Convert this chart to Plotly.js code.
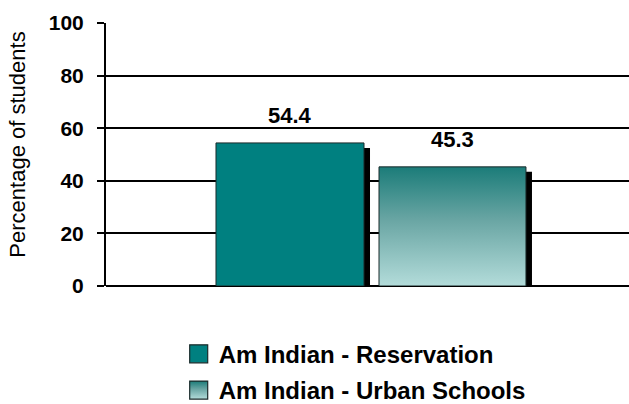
<!DOCTYPE html>
<html>
<head>
<meta charset="utf-8">
<script src="https://cdn.plot.ly/plotly-3.0.1.min.js"></script>
<style>html,body{margin:0;padding:0;background:#fff}#chart{width:629px;height:404px}</style>
</head>
<body>
<div id="chart"></div>
<script>
const category = ["Am Indian"];
const seriesNames = ["Am Indian - Reservation", "Am Indian - Urban Schools"];
const reservation = [54.4];
const urban = [45.3];
const yTicks = [0, 20, 40, 60, 80, 100];

const font = "Liberation Sans, Arial, sans-serif";
const barW = [0.283, 0.281];
const barOff = [-0.2897, 0.022];
const shadowDx = 0.0115;
const shadowDrop = 1.9;

const vals = [reservation, urban];
const traces = [];
// shadows
vals.forEach((v, i) => {
  traces.push({
    type: "bar", x: category, y: v.map(d => d - shadowDrop),
    width: barW[i], offset: barOff[i] + shadowDx,
    marker: {color: "#000000", line: {width: 0}},
    showlegend: false, hoverinfo: "skip"
  });
});
traces.push({
  type: "bar", name: seriesNames[0], x: category, y: reservation,
  width: barW[0], offset: barOff[0], legendgroup: "a",
  marker: {color: "#008080", line: {color: "#1a2a2a", width: 1}}
});
traces.push({
  type: "bar", name: seriesNames[1], x: category, y: urban,
  width: barW[1], offset: barOff[1], legendgroup: "b",
  marker: {color: "#6aa8a6", line: {color: "#1a2a2a", width: 1}}
});

const annotations = vals.map((v, i) => ({
  x: barOff[i] + barW[i] / 2, y: v[0], xref: "x", yref: "y",
  text: "<b>" + v[0].toFixed(1) + "</b>", showarrow: false,
  yanchor: "middle", yshift: 27,
  font: {family: font, size: 22, color: "#000"}
}));

const layout = {
  width: 629, height: 404,
  margin: {l: 106, r: 0, t: 23, b: 118, autoexpand: false},
  paper_bgcolor: "#fff", plot_bgcolor: "#fff",
  barmode: "overlay",
  showlegend: true,
  legend: {
    x: 0.139, xanchor: "left", y: -0.174, yanchor: "top",
    bgcolor: "rgba(0,0,0,0)",
    orientation: "v", traceorder: "grouped", tracegroupgap: 2,
    font: {family: font, size: 24, color: "#000", weight: "bold"},
    itemclick: false
  },
  xaxis: {
    type: "category", range: [-0.5, 0.5], showticklabels: false,
    showgrid: false, zeroline: false, showline: false, ticks: "", fixedrange: true
  },
  yaxis: {
    range: [0, 100], tickvals: yTicks, ticktext: yTicks.map(String),
    showgrid: true, gridcolor: "#000", gridwidth: 2,
    zeroline: true, zerolinecolor: "#000", zerolinewidth: 2,
    showline: true, linecolor: "#000", linewidth: 2,
    ticks: "outside", ticklen: 7, tickwidth: 2, tickcolor: "#000",
    ticklabelstandoff: 9,
    tickfont: {family: font, size: 21, color: "#000", weight: "bold"},
    title: {text: "Percentage of students", standoff: 17,
            font: {family: font, size: 22, color: "#000"}},
    automargin: false,
    fixedrange: true
  },
  annotations: annotations
};

Plotly.newPlot("chart", traces, layout, {displayModeBar: false, staticPlot: true}).then(gd => {
  const svg = gd.querySelector("svg.main-svg");
  const ns = "http://www.w3.org/2000/svg";
  let defs = svg.querySelector("defs");
  const lg = document.createElementNS(ns, "linearGradient");
  lg.setAttribute("id", "urbanGrad");
  lg.setAttribute("x1", "0"); lg.setAttribute("y1", "0");
  lg.setAttribute("x2", "0"); lg.setAttribute("y2", "1");
  [["0", "#1b7c79"], ["0.45", "#6aa6a4"], ["1", "#b3dcda"]].forEach(([o, c]) => {
    const s = document.createElementNS(ns, "stop");
    s.setAttribute("offset", o); s.setAttribute("stop-color", c);
    lg.appendChild(s);
  });
  defs.appendChild(lg);
  const bars = gd.querySelectorAll(".barlayer .trace");
  const urbanBar = bars[3];
  if (urbanBar) urbanBar.querySelectorAll("path").forEach(p => p.style.fill = "url(#urbanGrad)");
  gd.querySelectorAll(".legend .traces").forEach(t => {
    t.querySelectorAll(".legendpoints path").forEach(p => {
      const tr = p.getAttribute("transform") || "";
      p.setAttribute("transform", tr + " scale(1.5)");
      p.style.strokeWidth = "0.8px";
    });
    const txt = t.querySelector("text");
    if (txt && txt.textContent.indexOf("Urban") >= 0) {
      t.querySelectorAll(".legendpoints path").forEach(p => p.style.fill = "url(#urbanGrad)");
    }
  });
  const yt = gd.querySelector(".g-ytitle");
  if (yt) yt.setAttribute("transform", "translate(0,-10)");
});
</script>
</body>
</html>
